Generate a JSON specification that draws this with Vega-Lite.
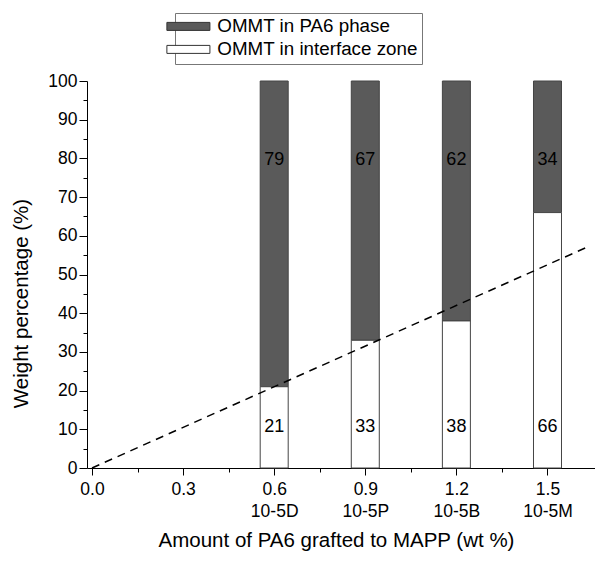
{
  "$schema": "https://vega.github.io/schema/vega-lite/v6.json",
  "width": 508,
  "height": 387,
  "autosize": {"type": "none"},
  "padding": {"left": 87, "top": 81, "right": 0, "bottom": 95},
  "background": "white",
  "config": {"view": {"stroke": null}, "font": "Liberation Sans", "axis": {"labelOverlap": false}},
  "datasets": {
    "bars": [
      {"amount": 0.6, "sample": "10-5D", "phase": "OMMT in PA6 phase", "value": 79},
      {"amount": 0.6, "sample": "10-5D", "phase": "OMMT in interface zone", "value": 21},
      {"amount": 0.9, "sample": "10-5P", "phase": "OMMT in PA6 phase", "value": 67},
      {"amount": 0.9, "sample": "10-5P", "phase": "OMMT in interface zone", "value": 33},
      {"amount": 1.2, "sample": "10-5B", "phase": "OMMT in PA6 phase", "value": 62},
      {"amount": 1.2, "sample": "10-5B", "phase": "OMMT in interface zone", "value": 38},
      {"amount": 1.5, "sample": "10-5M", "phase": "OMMT in PA6 phase", "value": 34},
      {"amount": 1.5, "sample": "10-5M", "phase": "OMMT in interface zone", "value": 66}
    ],
    "trend": [
      {"amount": 0, "value": 0},
      {"amount": 1.64, "value": 57.4}
    ]
  },
  "layer": [
    {
      "data": {"name": "bars"},
      "mark": {"type": "bar", "orient": "vertical", "width": 28, "stroke": "#444", "strokeWidth": 1},
      "encoding": {
        "x": {
          "field": "amount",
          "type": "quantitative",
          "scale": {"domain": [0, 1.64], "nice": false, "zero": false},
          "axis": {
            "values": [0, 0.15, 0.3, 0.45, 0.6, 0.75, 0.9, 1.05, 1.2, 1.35, 1.5],
            "tickCount": 40,
            "title": "Amount of PA6 grafted to MAPP (wt %)",
            "titleFont": "Liberation Sans",
            "titleFontSize": 20.5,
            "titleFontWeight": "normal",
            "titleColor": "black",
            "titleX": 249,
            "titleY": 72,
            "titleAlign": "center",
            "titleBaseline": "middle",
            "labelExpr": "abs(datum.value-0.6)<0.001 ? ['0.6','10-5D'] : abs(datum.value-0.9)<0.001 ? ['0.9','10-5P'] : abs(datum.value-1.2)<0.001 ? ['1.2','10-5B'] : abs(datum.value-1.5)<0.001 ? ['1.5','10-5M'] : abs(datum.value)<0.001 ? '0.0' : abs(datum.value-0.3)<0.001 ? '0.3' : ''",
            "labelFont": "Liberation Sans",
            "labelFontSize": 17.5,
            "labelColor": "black",
            "labelPadding": 5,
            "labelLineHeight": 22,
            "labelFlush": false,
            "labelOverlap": false,
            "tickSize": {"expr": "abs(datum.value/0.3 - round(datum.value/0.3)) < 0.01 ? 7 : 4"},
            "tickColor": "black",
            "tickWidth": 1,
            "domainColor": "black",
            "domainWidth": 1,
            "grid": false
          }
        },
        "y": {
          "field": "value",
          "type": "quantitative",
          "stack": "zero",
          "scale": {"domain": [0, 100], "nice": false},
          "axis": {
            "values": [0, 5, 10, 15, 20, 25, 30, 35, 40, 45, 50, 55, 60, 65, 70, 75, 80, 85, 90, 95, 100],
            "tickCount": 40,
            "title": "Weight percentage (%)",
            "titleFont": "Liberation Sans",
            "titleFontSize": 20.5,
            "titleFontWeight": "normal",
            "titleColor": "black",
            "titleAngle": -90,
            "titleX": -66,
            "titleY": 222,
            "titleAlign": "center",
            "titleBaseline": "middle",
            "labelExpr": "abs(datum.value/10 - round(datum.value/10)) < 0.01 ? format(datum.value, 'd') : ''",
            "labelFont": "Liberation Sans",
            "labelFontSize": 17.5,
            "labelColor": "black",
            "labelPadding": 2,
            "labelFlush": false,
            "labelOverlap": false,
            "tickSize": {"expr": "abs(datum.value/10 - round(datum.value/10)) < 0.01 ? 8 : 4"},
            "tickColor": "black",
            "tickWidth": 1,
            "domainColor": "black",
            "domainWidth": 1,
            "grid": false
          }
        },
        "color": {
          "field": "phase",
          "type": "nominal",
          "scale": {
            "domain": ["OMMT in PA6 phase", "OMMT in interface zone"],
            "range": ["#5a5a5a", "#ffffff"]
          },
          "legend": {
            "orient": "none",
            "legendX": 88,
            "legendY": -68,
            "title": null,
            "symbolType": "M-2.69,-0.5H2.69V0.5H-2.69Z",
            "symbolSize": 256,
            "symbolStrokeColor": "#333",
            "symbolStrokeWidth": 1,
            "symbolOpacity": 1,
            "labelFont": "Liberation Sans",
            "labelFontSize": 18.8,
            "labelColor": "black",
            "labelLimit": 300,
            "labelOffset": 19.5,
            "padding": 4,
            "rowPadding": 3,
            "strokeColor": "#777",
            "fillColor": "white"
          }
        },
        "order": {"field": "phase", "sort": "descending"}
      }
    },
    {
      "data": {"name": "bars"},
      "transform": [{"filter": "datum.phase === 'OMMT in PA6 phase'"}],
      "mark": {"type": "text", "fontSize": 18, "font": "Liberation Sans", "color": "black", "baseline": "middle", "align": "center"},
      "encoding": {
        "x": {"field": "amount", "type": "quantitative"},
        "y": {"datum": 79.5, "type": "quantitative"},
        "text": {"field": "value", "type": "quantitative"}
      }
    },
    {
      "data": {"name": "bars"},
      "transform": [{"filter": "datum.phase === 'OMMT in interface zone'"}],
      "mark": {"type": "text", "fontSize": 18, "font": "Liberation Sans", "color": "black", "baseline": "middle", "align": "center"},
      "encoding": {
        "x": {"field": "amount", "type": "quantitative"},
        "y": {"datum": 10.5, "type": "quantitative"},
        "text": {"field": "value", "type": "quantitative"}
      }
    },
    {
      "data": {"name": "trend"},
      "mark": {"type": "line", "color": "black", "strokeWidth": 1.5, "strokeDash": [8, 6]},
      "encoding": {
        "x": {"field": "amount", "type": "quantitative"},
        "y": {"field": "value", "type": "quantitative"}
      }
    }
  ]
}
